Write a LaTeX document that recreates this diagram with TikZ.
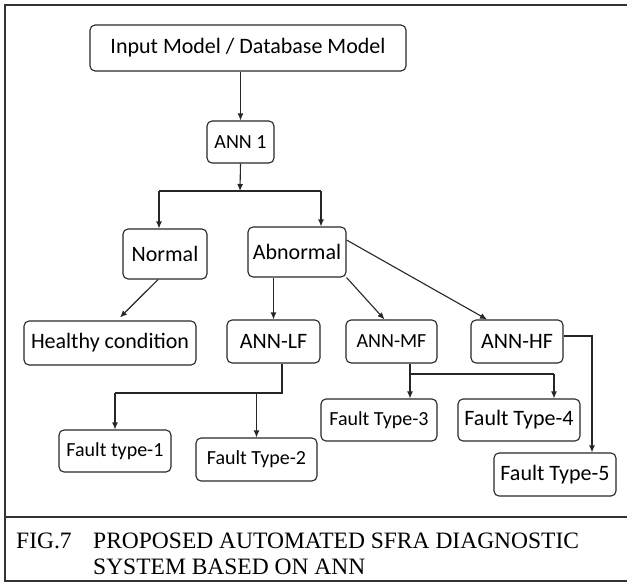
\documentclass[tikz,border=0pt]{standalone}
\usepackage{fontspec}
\setmainfont{Liberation Serif}
\newfontfamily\calibri{Carlito}
\usepackage{xcolor}
\usepackage{tikz}
\usetikzlibrary{shapes,arrows.meta}

\begin{document}
\begin{tikzpicture}[x=1pt, y=-1pt]
\tikzstyle{border}=[draw=black!80, line width=2.5pt]
\tikzstyle{rbox}=[draw=black!85, line width=1.1pt, rounded corners=5pt, inner sep=0pt, font=\calibri\fontsize{22}{25}\selectfont]
\tikzstyle{smtxt}=[font=\calibri\fontsize{20}{23}\selectfont]
\tikzstyle{wire}=[draw=black!85, line width=1.1pt]
\tikzstyle{arr}=[wire, -{Latex[length=7pt, width=6pt]}]
\tikzstyle{captxt}=[inner sep=0pt, font=\fontsize{23.5}{26}\selectfont]
\useasboundingbox (0,0) rectangle (627,584);
\path[border] (627,5) -- (5,5) -- (5,581) -- (627,581);
\path[border] (5,517) -- (627,517);
\node[rbox, minimum width=316pt, minimum height=46pt] (In) at (248,48) {Input Model / Database Model};
\node[rbox, smtxt, minimum width=67pt, minimum height=42pt] (Ann) at (240.5,142) {ANN 1};
\node[rbox, minimum width=84pt, minimum height=50pt] (Nor) at (165,254) {Normal};
\node[rbox, minimum width=98pt, minimum height=50pt] (Abn) at (297,252) {Abnormal};
\node[rbox, minimum width=172pt, minimum height=44pt] (Hea) at (110,343) {Healthy condition};
\node[rbox, minimum width=93pt, minimum height=43pt] (LF) at (273.5,341.5) {ANN-LF};
\node[rbox, smtxt, minimum width=91pt, minimum height=43pt] (MF) at (391.5,341.5) {ANN-MF};
\node[rbox, minimum width=92pt, minimum height=43pt] (HF) at (517,341.5) {ANN-HF};
\node[rbox, smtxt, minimum width=112pt, minimum height=42pt] (F1) at (115,451) {Fault type-1};
\node[rbox, smtxt, minimum width=121pt, minimum height=43pt] (F2) at (256.5,459.5) {Fault Type-2};
\node[rbox, smtxt, minimum width=116pt, minimum height=42pt] (F3) at (379,420) {Fault Type-3};
\node[rbox, minimum width=122pt, minimum height=42pt] (F4) at (519,420) {Fault Type-4};
\node[rbox, minimum width=122pt, minimum height=43pt] (F5) at (555,474.5) {Fault Type-5};
\draw[arr] (Ann.north |- In.south) -- (Ann.north);
\coordinate (S) at (240,191);
\coordinate (SL) at (159,191);
\coordinate (SR) at (321,191);
\draw[arr] (Ann.south) -- (S);
\draw[wire] (SL) -- (SR);
\draw[arr] (SL) -- (SL |- Nor.north);
\draw[arr] (SR) -- (SR |- Abn.north);
\draw[arr] ([xshift=-7pt]Nor.south) -- ([xshift=10pt, yshift=3pt]Hea.north);
\draw[arr] (Abn.south -| LF.north) -- (LF.north);
\draw[arr] (Abn.south east) -- ([xshift=-7pt]MF.north);
\draw[arr] ([yshift=12pt]Abn.east) -- ([xshift=-30pt]HF.north);
\coordinate (Lj) at (282,393);
\draw[wire] (LF.south -| Lj) -- (Lj) -- (F1.north |- Lj);
\draw[arr] (F1.north |- Lj) -- (F1.north);
\draw[arr] (F2.north |- Lj) -- (F2.north);
\coordinate (Mj) at (410,374);
\coordinate (Mk) at (554,374);
\draw[wire] (MF.south -| Mj) -- (Mj) -- (Mk);
\draw[arr] (Mj) -- (Mj |- F3.north);
\draw[arr] (Mk) -- (Mk |- F4.north);
\coordinate (Hj) at (592,336);
\draw[arr] (HF.east |- Hj) -- (Hj) -- (Hj |- F5.north);
\node[captxt, anchor=base west] (Fig) at (16,548) {FIG.7};
\node[captxt, anchor=base west] (Cap1) at (93,548) {PROPOSED AUTOMATED SFRA DIAGNOSTIC};
\node[captxt, anchor=base west] (Cap2) at (93,574) {SYSTEM BASED ON ANN};
\end{tikzpicture}
\end{document}
